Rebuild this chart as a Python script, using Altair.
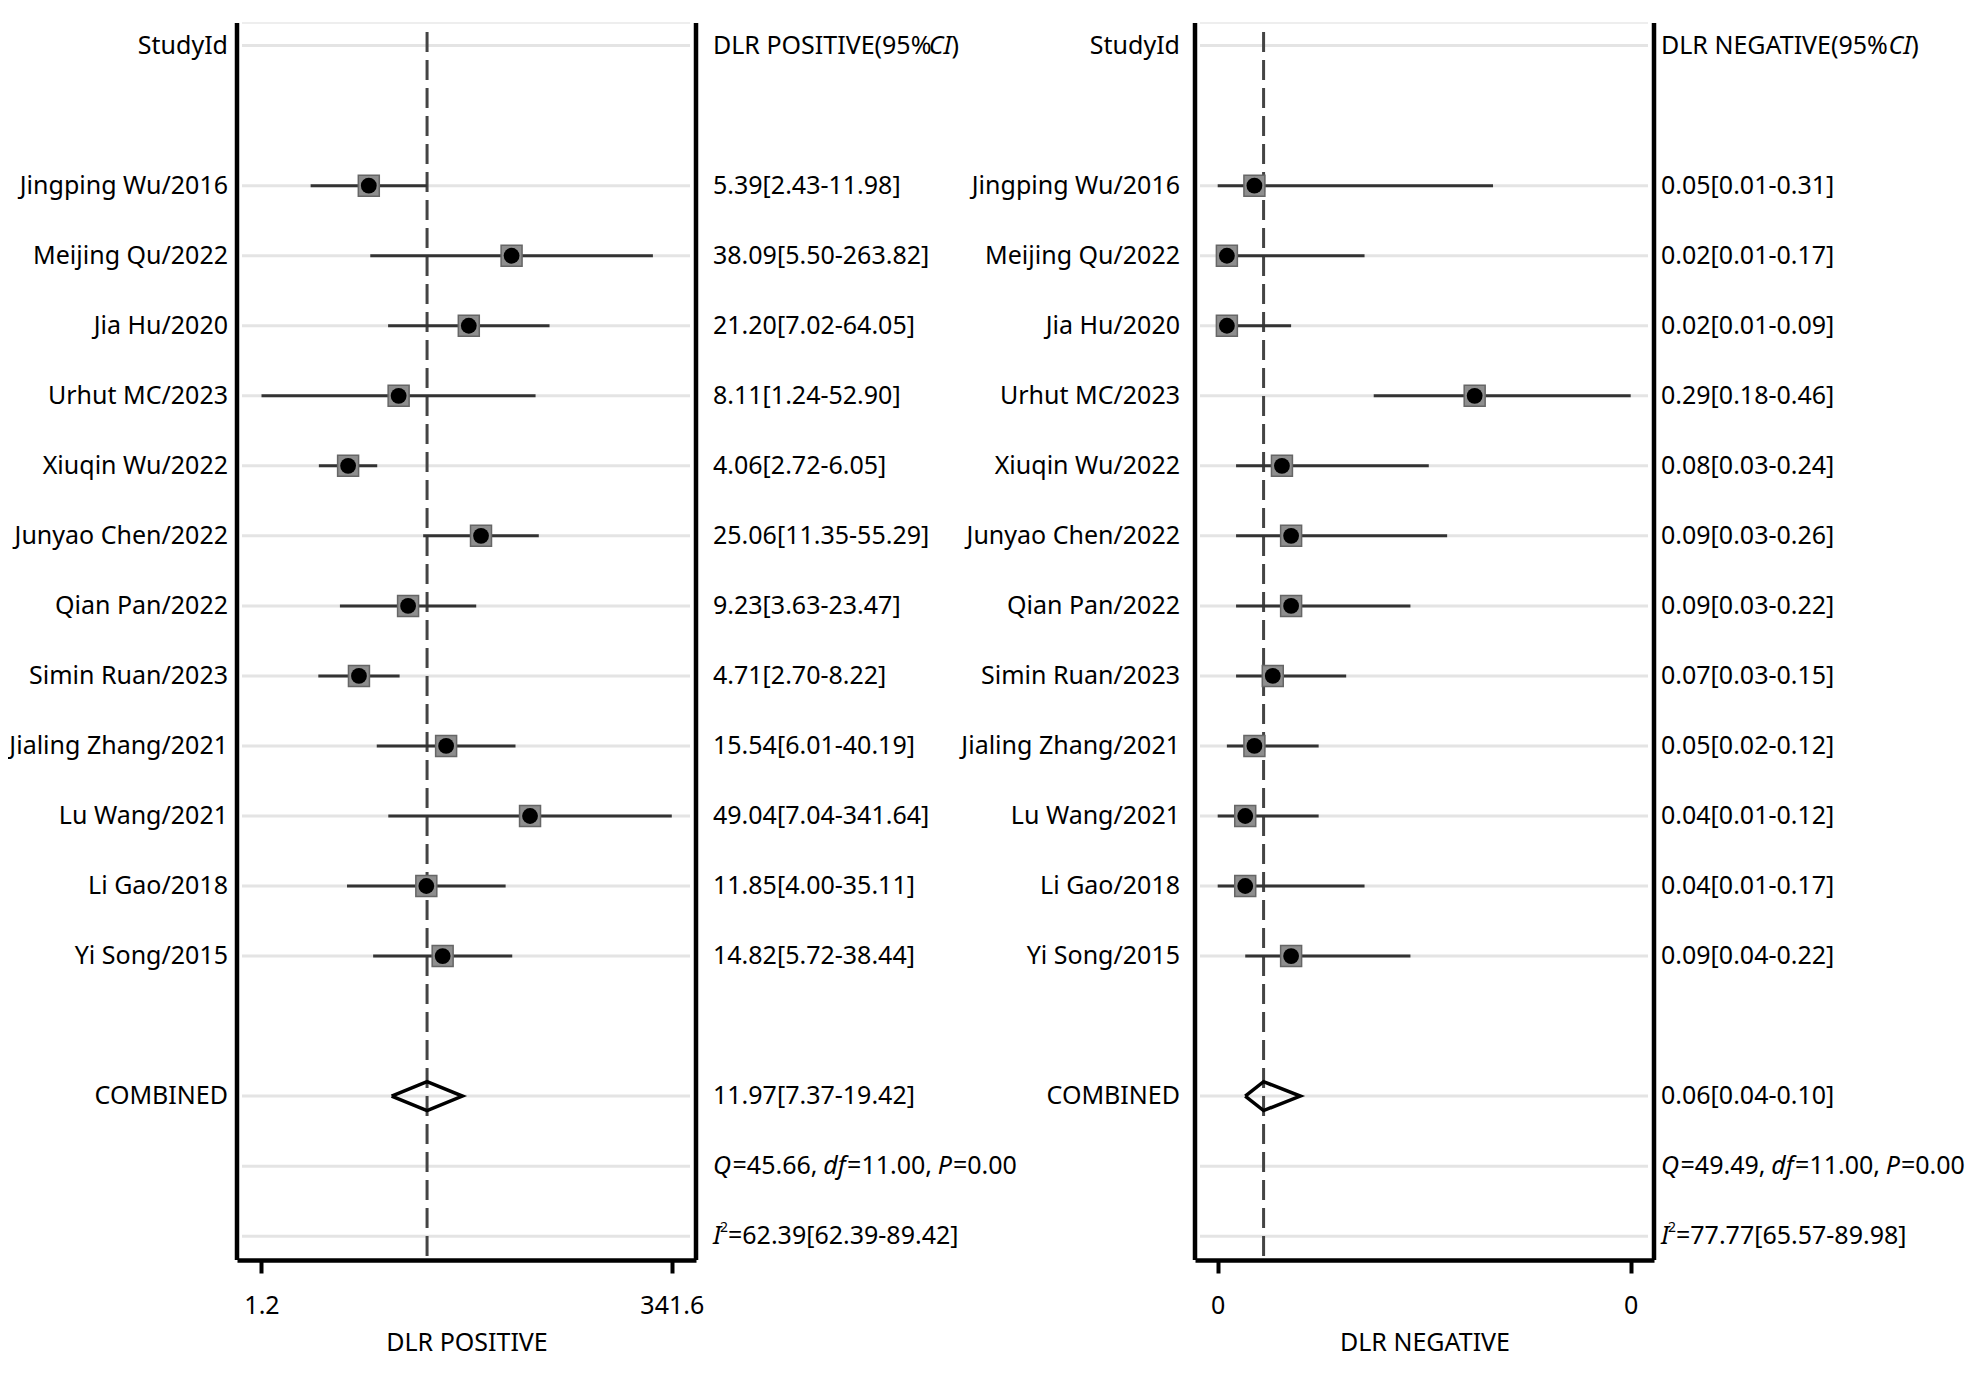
import altair as alt
import pandas as pd

# ---------------- data ----------------
studies = ["Jingping Wu/2016", "Meijing Qu/2022", "Jia Hu/2020", "Urhut MC/2023",
           "Xiuqin Wu/2022", "Junyao Chen/2022", "Qian Pan/2022", "Simin Ruan/2023",
           "Jialing Zhang/2021", "Lu Wang/2021", "Li Gao/2018", "Yi Song/2015"]

pos_est = [5.39, 38.09, 21.20, 8.11, 4.06, 25.06, 9.23, 4.71, 15.54, 49.04, 11.85, 14.82]
pos_lo = [2.43, 5.50, 7.02, 1.24, 2.72, 11.35, 3.63, 2.70, 6.01, 7.04, 4.00, 5.72]
pos_hi = [11.98, 263.82, 64.05, 52.90, 6.05, 55.29, 23.47, 8.22, 40.19, 341.64, 35.11, 38.44]
pos_comb = [11.97, 7.37, 19.42]
pos_stats = [45.66, 11.00, 0.00]
pos_i2 = [62.39, 62.39, 89.42]

neg_est = [0.05, 0.02, 0.02, 0.29, 0.08, 0.09, 0.09, 0.07, 0.05, 0.04, 0.04, 0.09]
neg_lo = [0.01, 0.01, 0.01, 0.18, 0.03, 0.03, 0.03, 0.03, 0.02, 0.01, 0.01, 0.04]
neg_hi = [0.31, 0.17, 0.09, 0.46, 0.24, 0.26, 0.22, 0.15, 0.12, 0.12, 0.17, 0.22]
neg_comb = [0.06, 0.04, 0.10]
neg_stats = [49.49, 11.00, 0.00]
neg_i2 = [77.77, 65.57, 89.98]

pos_ticks = [1.24, 341.64]
neg_ticks = [0.01, 0.46]

# ---------------- style ----------------
FONT = "Noto Sans"
FS = 25
H = 1237
Y_DOMAIN = [-0.323, 17.34]
ROW_HEADER, ROW_COMB, ROW_Q, ROW_I2 = 0, 15, 16, 17
STUDY_ROWS = list(range(2, 14))
DIAMOND_HALF = 0.206  # half-height of the pooled diamond, in row units

# approximate advance widths (em) used to chain mixed italic/normal text pieces
CW = {" ": 0.26, ".": 0.266, ",": 0.244, "-": 0.322, "=": 0.572, "[": 0.297, "]": 0.297,
      "(": 0.295, ")": 0.295, "%": 0.831, "/": 0.367,
      "D": 0.722, "L": 0.543, "R": 0.617, "P": 0.603, "O": 0.781, "S": 0.551, "I": 0.279,
      "T": 0.56, "V": 0.608, "E": 0.556, "N": 0.76, "G": 0.728, "A": 0.639, "C": 0.633,
      "Q": 0.781, "d": 0.613, "f": 0.339}


def tw(s, fs):
    return sum(CW.get(c, 0.572) for c in s) * fs


def fmt_ci(e, l, h):
    return f"{e:.2f}[{l:.2f}-{h:.2f}]"


def build_panel(est, lo, hi, comb, stats, i2, scale, ticks, tick_fmt, title, header,
                W, label_dx, value_dx, anchor=None):
    yscale = alt.Scale(domain=Y_DOMAIN, reverse=True, nice=False, zero=False)
    xaxis = alt.Axis(values=ticks, format=tick_fmt, title=title, grid=False,
                     domainColor="black", domainWidth=4.5, tickColor="black", tickWidth=4,
                     tickSize=13, labelFont=FONT, labelFontSize=FS, labelColor="black",
                     labelBaseline="middle", labelPadding=32, labelFlush=False,
                     labelOverlap=False, titleFont=FONT, titleFontSize=FS,
                     titleFontWeight="normal", titleColor="black", titlePadding=12)

    def X(f):
        return alt.X(f"{f}:Q", scale=scale, axis=xaxis, title=title)

    def Y(f="row"):
        return alt.Y(f"{f}:Q", scale=yscale, axis=None)

    sdf = pd.DataFrame({"row": STUDY_ROWS, "name": studies, "est": est, "lo": lo, "hi": hi,
                        "val": [fmt_ci(e, l, h) for e, l, h in zip(est, lo, hi)]})
    cdf = pd.DataFrame({"row": [ROW_COMB], "est": [comb[0]], "lo": [comb[1]], "hi": [comb[2]]})
    one = pd.DataFrame({"row": [0]})
    grid_df = pd.DataFrame({"row": [ROW_HEADER] + STUDY_ROWS + [ROW_COMB, ROW_Q, ROW_I2]})
    diamond = pd.DataFrame({
        "x": [comb[1], comb[0], comb[2], comb[0], comb[1]],
        "y": [ROW_COMB, ROW_COMB - DIAMOND_HALF, ROW_COMB, ROW_COMB + DIAMOND_HALF, ROW_COMB],
        "o": [0, 1, 2, 3, 4]})
    labels = pd.DataFrame({"row": [ROW_HEADER] + STUDY_ROWS + [ROW_COMB],
                           "name": ["StudyId"] + studies + ["COMBINED"]})
    values = pd.DataFrame({"row": STUDY_ROWS + [ROW_COMB],
                           "val": list(sdf["val"]) + [fmt_ci(*comb)]})

    layers = []
    layers.append(alt.Chart(one).mark_rule(color="#eeeeee", strokeWidth=2).encode(
        x=alt.value(5), x2=alt.value(W - 6), y=alt.value(0)))
    layers.append(alt.Chart(grid_df).mark_rule(color="#e4e4e4", strokeWidth=3).encode(
        y=Y(), x=alt.value(5), x2=alt.value(W - 6)))
    layers.append(alt.Chart(cdf).mark_rule(color="#444444", strokeWidth=3,
                                           strokeDash=[20, 8]).encode(
        x=X("est"), y=alt.value(9), y2=alt.value(H)))
    layers.append(alt.Chart(sdf).mark_rule(color="#333333", strokeWidth=3).encode(
        x=X("lo"), x2="hi:Q", y=Y()))
    layers.append(alt.Chart(sdf).mark_point(shape="square", filled=True, fill="#8e8e8e",
                                            stroke="#666666", strokeWidth=1.5, size=440,
                                            opacity=1).encode(x=X("est"), y=Y()))
    layers.append(alt.Chart(sdf).mark_point(shape="circle", filled=True, color="black",
                                            size=250, opacity=1).encode(x=X("est"), y=Y()))
    layers.append(alt.Chart(diamond).mark_line(color="black", strokeWidth=3.5,
                                               strokeJoin="miter").encode(
        x=X("x"), y=Y("y"), order="o:Q"))
    for xv in (0, W):
        layers.append(alt.Chart(one).mark_rule(color="black", strokeWidth=4.5).encode(
            x=alt.value(xv), y=alt.value(0), y2=alt.value(H)))
    layers.append(alt.Chart(labels).mark_text(align="right", baseline="middle", font=FONT,
                                              fontSize=FS, color="black", dx=label_dx).encode(
        x=alt.value(0), y=Y(), text="name:N"))
    layers.append(alt.Chart(values).mark_text(align="left", baseline="middle", font=FONT,
                                              fontSize=FS, color="black", dx=value_dx).encode(
        x=alt.value(W), y=Y(), text="val:N"))

    # mixed-style lines: (text, italic, fontsize, dy)
    pieces = {
        ROW_HEADER: [(header + "(95%", False, FS, 0), ("CI", True, FS, 0), (")", False, FS, 0)],
        ROW_Q: [("Q", True, FS, 0), (f"={stats[0]:.2f}, ", False, FS, 0), ("df", True, FS, 0),
                (f"={stats[1]:.2f}, ", False, FS, 0), ("P", True, FS, 0),
                (f"={stats[2]:.2f}", False, FS, 0)],
        ROW_I2: [("I", True, FS, 0), ("2", False, 14, -8),
                 (f"={i2[0]:.2f}[{i2[1]:.2f}-{i2[2]:.2f}]", False, FS, 0)],
    }
    for r, plist in pieces.items():
        off = 0.0
        for txt, ital, fs, dy in plist:
            d = pd.DataFrame({"row": [r], "t": [txt]})
            layers.append(alt.Chart(d).mark_text(
                align="left", baseline="middle", font=FONT, fontSize=fs,
                fontStyle="italic" if ital else "normal", color="black",
                dx=value_dx + off, dy=dy).encode(x=alt.value(W), y=Y(), text="t:N"))
            off += tw(txt, fs)

    if anchor is not None:
        layers.append(alt.Chart(one).mark_rule(color="white", strokeWidth=1).encode(
            x=alt.value(anchor), x2=alt.value(anchor + 1), y=alt.value(0)))

    return alt.layer(*layers).properties(width=W, height=H)


p1 = build_panel(pos_est, pos_lo, pos_hi, pos_comb, pos_stats, pos_i2,
                 alt.Scale(type="log", domain=[0.8866, 476.0], nice=False),
                 pos_ticks, ".1f", "DLR POSITIVE", "DLR POSITIVE",
                 W=459, label_dx=-9, value_dx=17, anchor=-225)
p2 = build_panel(neg_est, neg_lo, neg_hi, neg_comb, neg_stats, neg_i2,
                 alt.Scale(type="linear", domain=[-0.01473, 0.48539], nice=False, zero=False),
                 neg_ticks, ".0f", "DLR NEGATIVE", "DLR NEGATIVE",
                 W=459, label_dx=-15, value_dx=7)

chart = alt.hconcat(p1, p2, spacing=499, bounds="flush").properties(
    padding={"left": 0, "top": 12, "right": 0, "bottom": 0}
).configure_view(stroke="transparent")

chart.save("out.html", embed_options={"renderer": "svg", "actions": False})
